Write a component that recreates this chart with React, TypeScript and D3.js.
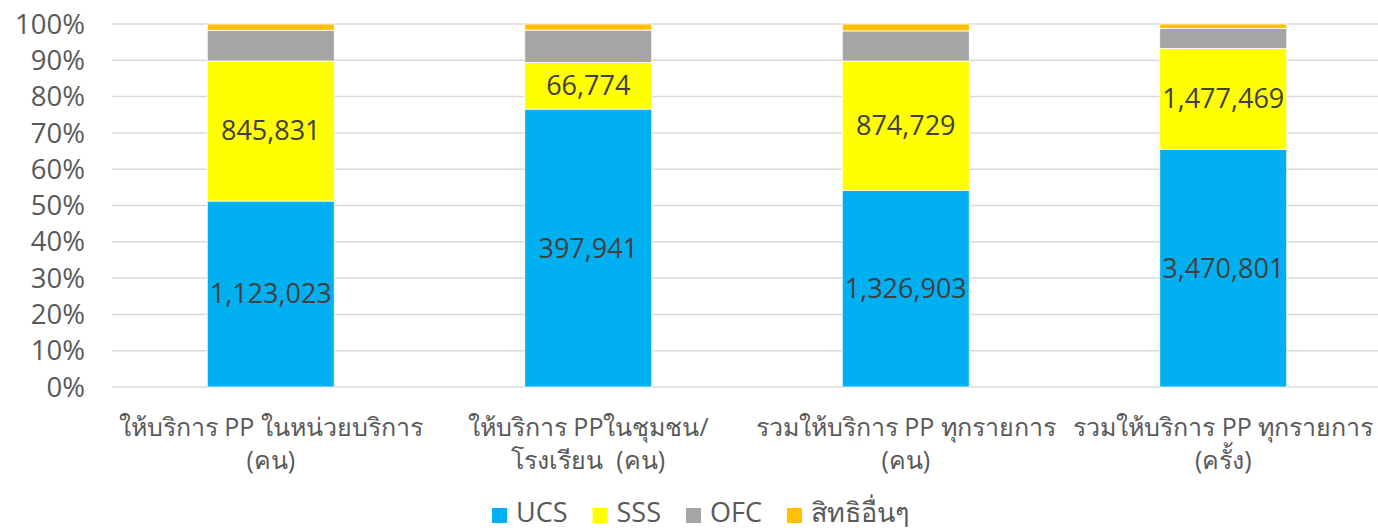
import * as d3 from 'd3';
import { useEffect, useRef } from 'react';

const categories = [
    ['ให้บริการ PP ในหน่วยบริการ', '(คน)'],
    ['ให้บริการ PPในชุมชน/', 'โรงเรียน  (คน)'],
    ['รวมให้บริการ PP ทุกรายการ', '(คน)'],
    ['รวมให้บริการ PP ทุกรายการ', '(ครั้ง)'],
];
const seriesNames = ['UCS', 'SSS', 'OFC', 'สิทธิอื่นๆ'];
const seriesColors = ['#00B0F0', '#FFFF00', '#A5A5A5', '#FFC000'];
const ucs = [1123023, 397941, 1326903, 3470801];
const sss = [845831, 66774, 874729, 1477469];
const ofc = [184000, 46300, 203500, 292000];
const others = [39500, 8800, 46600, 64000];
const yTicks = [0, 0.1, 0.2, 0.3, 0.4, 0.5, 0.6, 0.7, 0.8, 0.9, 1];
const labelledSeries = [0, 1];

const W = 1378;
const H = 531;
const margin = { left: 112, right: -4, top: 24, bottom: 144 };
const FONT = "'Open Sans', 'Noto Sans', sans-serif";

export default function App() {
    const svgRef = useRef<SVGSVGElement>(null);

    useEffect(() => {
        const svg = d3.select(svgRef.current);
        svg.selectAll('*').remove();

        const values = [ucs, sss, ofc, others];
        const rows = categories.map((c, i) => {
            const row: Record<string, number> = { idx: i };
            const total = d3.sum(values, (v) => v[i]);
            seriesNames.forEach((s, j) => (row[s] = values[j][i] / total));
            return row;
        });
        const stack = d3.stack<Record<string, number>>().keys(seriesNames)(rows);

        const x = d3
            .scaleBand<number>()
            .domain(categories.map((_, i) => i))
            .range([margin.left, W - margin.right])
            .paddingInner(0.6)
            .paddingOuter(0.3);
        const y = d3.scaleLinear().domain([0, 1]).range([H - margin.bottom, margin.top]);

        // grid
        svg.append('g')
            .selectAll('line')
            .data(yTicks)
            .join('line')
            .attr('x1', margin.left)
            .attr('x2', W)
            .attr('y1', (d) => y(d))
            .attr('y2', (d) => y(d))
            .attr('stroke', '#D9D9D9')
            .attr('stroke-width', 1.5);

        svg.append('g')
            .selectAll('text')
            .data(yTicks)
            .join('text')
            .attr('x', 85)
            .attr('y', (d) => y(d))
            .attr('dy', '0.35em')
            .attr('text-anchor', 'end')
            .attr('font-family', FONT)
            .attr('font-size', 27.5)
            .attr('fill', '#595959')
            .text((d) => d3.format('.0%')(d));

        // bars
        const layers = svg
            .append('g')
            .selectAll('g')
            .data(stack)
            .join('g')
            .attr('fill', (_, i) => seriesColors[i]);
        layers
            .selectAll('rect')
            .data((d) => d)
            .join('rect')
            .attr('x', (d) => x(d.data.idx)!)
            .attr('width', x.bandwidth())
            .attr('y', (d) => y(d[1]))
            .attr('height', (d) => y(d[0]) - y(d[1]))
            .attr('stroke', '#FFFFFF')
            .attr('stroke-width', 0.8);

        // data labels
        labelledSeries.forEach((si) => {
            svg.append('g')
                .selectAll('text')
                .data(stack[si])
                .join('text')
                .attr('x', (d) => x(d.data.idx)! + x.bandwidth() / 2)
                .attr('y', (d) => (y(d[0]) + y(d[1])) / 2)
                .attr('dy', '0.35em')
                .attr('text-anchor', 'middle')
                .attr('font-family', FONT)
                .attr('font-size', 27)
                .attr('fill', '#404040')
                .text((_, i) => d3.format(',')(values[si][i]));
        });

        // category labels
        const cat = svg
            .append('g')
            .selectAll('text')
            .data(categories)
            .join('text')
            .attr('text-anchor', 'middle')
            .attr('font-family', FONT)
            .attr('font-size', 25)
            .attr('fill', '#595959');
        cat.selectAll('tspan')
            .data((d, i) => d.map((t) => ({ t, i })))
            .join('tspan')
            .attr('x', (d) => x(d.i)! + x.bandwidth() / 2)
            .attr('y', (_, k) => 436 + k * 33)
            .attr('xml:space', 'preserve')
            .text((d) => d.t);

        // legend
        const leg = svg.append('g').attr('font-family', FONT).attr('font-size', 27).attr('fill', '#595959');
        const items = leg
            .selectAll('g')
            .data(seriesNames)
            .join('g');
        items
            .append('rect')
            .attr('width', 15)
            .attr('height', 15)
            .attr('y', 508)
            .attr('fill', (_, i) => seriesColors[i]);
        items
            .append('text')
            .attr('x', 24)
            .attr('y', 522)
            .text((d) => d);
        const widths: number[] = [];
        items.each(function () {
            widths.push((d3.select(this).select('text').node() as SVGTextElement).getComputedTextLength() + 24);
        });
        const gap = 25;
        const total = d3.sum(widths) + gap * (widths.length - 1);
        let offset = (W - total) / 2 + 12;
        items.attr('transform', (_, i) => {
            const t = `translate(${offset},0)`;
            offset += widths[i] + gap;
            return t;
        });
    }, []);

    return (
        <svg
            ref={svgRef}
            width={W}
            height={H}
            style={{ position: 'absolute', left: 0, top: 0, background: '#fff' }}
        />
    );
}
